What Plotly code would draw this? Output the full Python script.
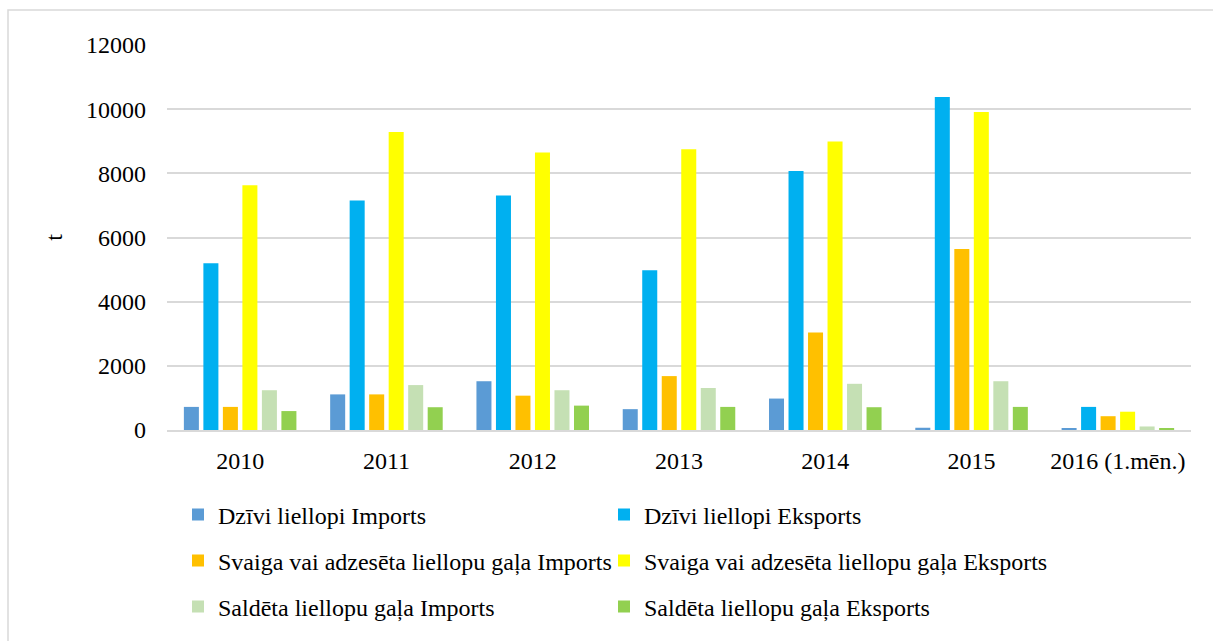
import plotly.graph_objects as go

categories = ["2010", "2011", "2012", "2013", "2014", "2015", "2016 (1.mēn.)"]

dzivi_imports = [720, 1110, 1520, 650, 980, 70, 60]
dzivi_eksports = [5200, 7150, 7310, 4980, 8070, 10380, 720]
svaiga_imports = [720, 1110, 1070, 1680, 3040, 5640, 430]
svaiga_eksports = [7630, 9290, 8650, 8750, 8990, 9910, 570]
saldeta_imports = [1240, 1400, 1240, 1310, 1440, 1520, 110]
saldeta_eksports = [590, 710, 760, 720, 710, 720, 60]

series_names = [
    "Dzīvi liellopi Imports",
    "Dzīvi liellopi Eksports",
    "Svaiga vai adzesēta liellopu gaļa Imports",
    "Svaiga vai adzesēta liellopu gaļa Eksports",
    "Saldēta liellopu gaļa Imports",
    "Saldēta liellopu gaļa Eksports",
]
series_values = [dzivi_imports, dzivi_eksports, svaiga_imports,
                 svaiga_eksports, saldeta_imports, saldeta_eksports]
series_colors = ["#5B9BD5", "#00B0F0", "#FFC000", "#FFFF00", "#C5E0B4", "#92D050"]

y_ticks = [0, 2000, 4000, 6000, 8000, 10000, 12000]

FONT = "Liberation Serif, Times New Roman, serif"

L, R, T, B = 167, 22, 45, 211
W, H = 1213, 641
pw = W - L - R
ph = H - T - B

def px_x(x):
    return (x - L) / pw

def px_y(y):
    return (H - B - y) / ph

legend_cols = [178, 604]
legend_rows = [515, 561, 607]

fig = go.Figure()
legend_layout = {}
for i, (name, vals, color) in enumerate(zip(series_names, series_values, series_colors)):
    key = "legend" if i == 0 else f"legend{i + 1}"
    fig.add_trace(go.Bar(
        x=categories, y=vals, name=name, marker_color=color,
        marker_line_width=0, legend=key,
    ))
    legend_layout[key] = dict(
        x=px_x(legend_cols[i % 2]), y=px_y(legend_rows[i // 2]),
        orientation="h", xanchor="left", yanchor="middle",
        font=dict(family=FONT, size=24, color="black"),
        bgcolor="rgba(0,0,0,0)", itemclick=False, itemdoubleclick=False,
    )

fig.update_layout(
    width=W, height=H,
    margin=dict(l=L, r=R, t=T, b=B),
    paper_bgcolor="white", plot_bgcolor="white",
    barmode="group", bargap=0.2, bargroupgap=0.23,
    font=dict(family=FONT, size=24, color="black"),
    showlegend=True,
    xaxis=dict(
        showgrid=False, showline=True, linecolor="#D9D9D9", linewidth=2,
        ticks="", tickfont=dict(family=FONT, size=24, color="black"),
        ticklabelstandoff=8,
    ),
    yaxis=dict(
        range=[0, 12000], tickvals=y_ticks, ticktext=[str(v) for v in y_ticks],
        showgrid=True, gridcolor="#D9D9D9", gridwidth=1.5,
        zeroline=False, showline=False, ticks="",
        tickfont=dict(family=FONT, size=24, color="black"),
        ticklabelstandoff=20,
        title=dict(text="t", font=dict(family=FONT, size=24, color="black"), standoff=16),
    ),
    shapes=[dict(
        type="rect", xref="paper", yref="paper",
        x0=px_x(8), x1=px_x(1240), y0=px_y(700), y1=px_y(10),
        line=dict(color="#D9D9D9", width=1.5), fillcolor="rgba(0,0,0,0)",
        layer="below",
    )],
    **legend_layout,
)

fig.write_html("out.html", config={"displayModeBar": False},
               post_script="document.body.style.margin='0';")
